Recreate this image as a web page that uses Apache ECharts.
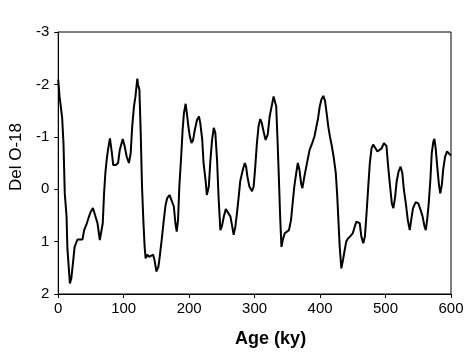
<!DOCTYPE html>
<html><head><meta charset="utf-8">
<script src="https://cdn.jsdelivr.net/npm/echarts@6/dist/echarts.min.js"></script>
<style>html,body{margin:0;padding:0;background:#fff}#c{width:473px;height:358px}</style>
</head><body><div id="c"></div>
<script>
const ages = [0,2,5,6,8,10,12.7,14,17.8,20,23,25,29.4,33,37,39.6,43.7,47,49.7,53,56,60,63.5,66,68,70,72,74,76,79,82,84,88,91.4,94,98.5,101.5,104.6,108,110.7,113,115.7,118,120.8,122,124,126,128,130,132,133.5,136,139,142,145,147,150,153,155,158,161,164,166.5,170,173,176.6,179,181,183,185,187.8,190,192,194.6,196.5,198.5,201,203.5,206,208.6,212,215,217,220,222,225,227,230,232.5,235,237.6,240,242.6,245,247.7,250,253,256,259,263,268,270.6,273,275.7,278,282,285,287,289,292,296,298.5,301,303.5,306,308.6,311,313.7,316.8,320,323,326,329,331,333,335,337,339,341,343,346,349,352.5,355.6,357.6,360.6,363.6,366,368.5,371,373,376,380,384,388,391.5,394,397,399.5,402,405,407.6,410,412.5,415,418,421,424,426,428,430,432.5,435,437.6,440,442.6,446,450,453,455.5,458.5,460.6,463,466,468.5,471,473.6,476,478.6,481,484.7,487.6,490,494,497.5,499.5,501.5,504,507,509.6,512,514.7,517,520,523,525.6,528,531,534,537,540,542,546,550,553.4,556.6,559.5,561.5,563.5,566,568.5,570.6,573,574.6,576.6,579,581.6,583.6,586,588,591,594,597,600];
const delO18 = [-2.09,-1.77,-1.77,-1.36,-0.88,0.08,0.52,1.13,1.80,1.70,1.35,1.10,0.96,0.96,0.96,0.78,0.65,0.52,0.43,0.36,0.39,0.65,0.97,0.94,0.65,0.08,-0.31,-0.56,-0.75,-0.97,-0.69,-0.46,-0.46,-0.50,-0.75,-0.96,-0.82,-0.62,-0.50,-0.69,-1.20,-1.58,-1.77,-2.11,-1.99,-1.90,-1.07,-0.05,0.59,1.10,1.32,1.25,1.29,1.29,1.25,1.35,1.57,1.48,1.29,0.97,0.62,0.30,0.17,0.11,0.14,0.33,0.65,0.81,0.59,-0.05,-0.62,-1.13,-1.45,-1.63,-1.45,-1.23,-1.01,-0.88,-0.94,-1.13,-1.32,-1.39,-1.26,-0.94,-0.50,-0.18,0.11,-0.05,-0.56,-0.94,-1.17,-1.07,-0.56,0.17,0.78,0.71,0.52,0.38,0.39,0.52,0.87,0.71,0.46,0.14,-0.15,-0.37,-0.50,-0.43,-0.24,-0.05,0.04,-0.05,-0.43,-0.88,-1.20,-1.34,-1.26,-1.10,-0.94,-1.04,-1.39,-1.58,-1.77,-1.74,-1.58,-0.94,-0.24,0.52,1.10,0.97,0.84,0.87,0.78,0.59,0.33,-0.05,-0.31,-0.50,-0.37,-0.11,-0.02,-0.24,-0.50,-0.75,-0.88,-1.01,-1.17,-1.36,-1.58,-1.71,-1.78,-1.68,-1.45,-1.20,-1.01,-0.82,-0.59,-0.31,0.08,0.59,1.10,1.51,1.35,1.16,1.00,0.94,0.90,0.84,0.71,0.62,0.59,0.65,0.90,1.03,0.90,0.46,-0.05,-0.50,-0.78,-0.85,-0.78,-0.72,-0.69,-0.78,-0.88,-0.91,-0.82,-0.43,-0.05,0.27,0.36,0.14,-0.15,-0.34,-0.43,-0.31,0.01,0.27,0.59,0.78,0.52,0.36,0.25,0.27,0.39,0.52,0.71,0.78,0.59,0.27,-0.18,-0.69,-0.91,-0.96,-0.78,-0.43,-0.08,0.08,-0.08,-0.37,-0.62,-0.72,-0.68,-0.64];
const xTitle = 'Age (ky)';
const yTitle = 'Del O-18';

const chart = echarts.init(document.getElementById('c'), null, {renderer: 'canvas'});
const font = '"Liberation Sans", Arial, sans-serif';
chart.setOption({
  animation: false,
  backgroundColor: '#fff',
  grid: {left: 57, right: 22, top: 32, bottom: 64, show: true, borderColor: '#000', borderWidth: 1, containLabel: false},
  xAxis: {
    type: 'value', min: 0, max: 600, interval: 100,
    name: xTitle, nameLocation: 'middle', nameGap: 36,
    nameTextStyle: {fontFamily: font, fontSize: 18, fontWeight: 'bold', color: '#000', padding: [0,0,0,32]},
    axisLine: {show: true, onZero: false, lineStyle: {color: '#000', width: 1}},
    axisTick: {show: true, length: 4, inside: false, lineStyle: {color: '#000'}},
    axisLabel: {fontFamily: font, fontSize: 15, color: '#000', margin: 7},
    splitLine: {show: false}
  },
  yAxis: {
    type: 'value', min: -3, max: 2, interval: 1, inverse: true,
    name: yTitle, nameLocation: 'middle', nameGap: 31, nameRotate: 90,
    nameTextStyle: {fontFamily: font, fontSize: 17, color: '#000', padding: [0,0,0,12]},
    axisLine: {show: true, onZero: false, lineStyle: {color: '#000', width: 1}},
    axisTick: {show: true, length: 4, inside: false, lineStyle: {color: '#000'}},
    axisLabel: {fontFamily: font, fontSize: 15, color: '#000', margin: 9},
    splitLine: {show: false}
  },
  series: [{
    type: 'line',
    data: ages.map((a, i) => [a, delO18[i]]),
    showSymbol: false,
    smooth: false,
    lineStyle: {color: '#000', width: 2},
    clip: true
  }]
});
</script></body></html>
